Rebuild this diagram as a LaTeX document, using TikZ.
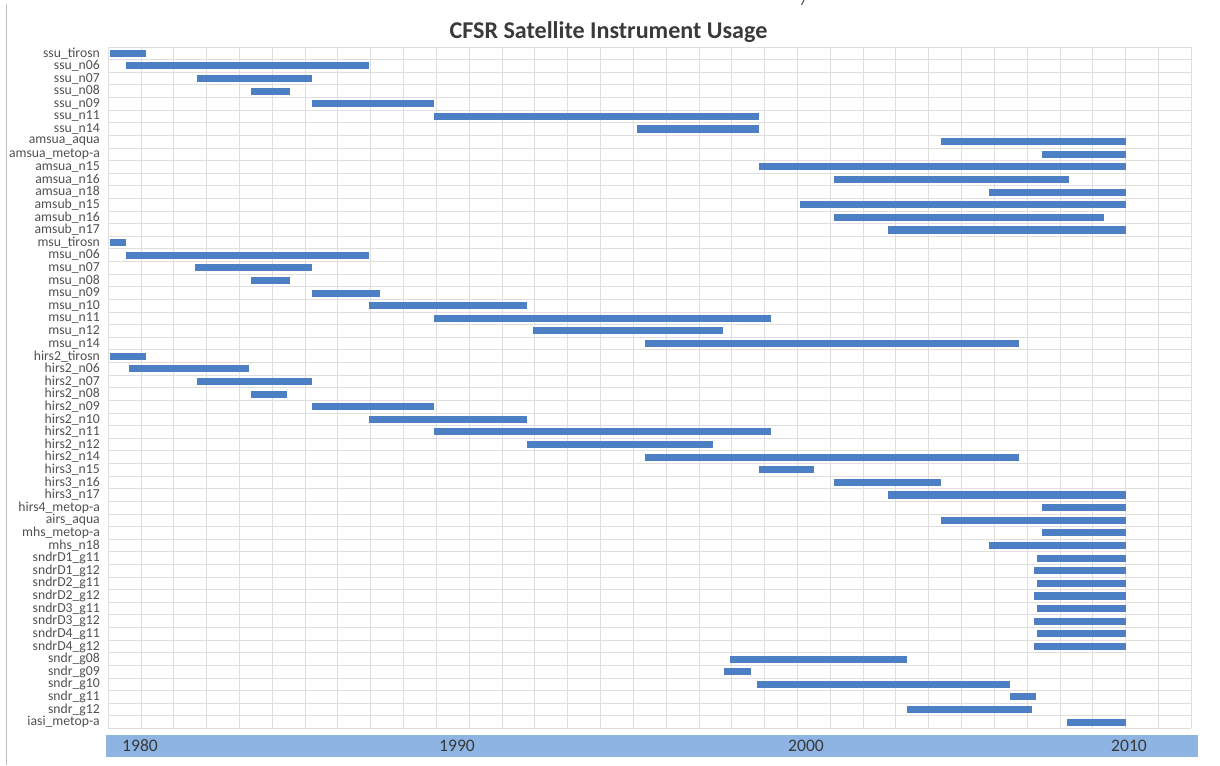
\documentclass[tikz,border=0pt]{standalone}
\usepackage{fontspec}
\setmainfont{Carlito}
\definecolor{barblue}{HTML}{4C7FC4}
\definecolor{axisblue}{HTML}{8DB4E2}
\definecolor{labgray}{HTML}{505050}
\definecolor{titlegray}{HTML}{3A3A3A}
\begin{document}
\begin{tikzpicture}[
  gridline/.style={draw=black!13, line width=0.5pt},
  rowlab/.style={anchor=east, inner sep=0pt, text=labgray, font=\fontsize{7.8}{8}\selectfont},
  yearlab/.style={inner sep=0pt, text=titlegray, font=\fontsize{10}{12}\selectfont},
  bar/.style={fill=barblue}]
\useasboundingbox (0,0) rectangle (24.4,-15.3);
\node[font=\bfseries\fontsize{13.7}{15}\selectfont, text=titlegray] (title) at (12.17,-0.64) {CFSR Satellite Instrument Usage};
\draw[black!25, line width=0.5pt] (0.12,-0.08) -- (0.12,-15.3);
\draw[black!70, line width=0.6pt] (16.03,-0.10) -- (16.08,0);
% time axis band
\fill[axisblue] (2.12,-14.70) rectangle (23.96,-15.14);
\node[yearlab] (y1980) at (2.80,-14.92) {1980};
\node[yearlab] (y1990) at (9.14,-14.92) {1990};
\node[yearlab] (y2000) at (16.12,-14.92) {2000};
\node[yearlab] (y2010) at (22.58,-14.92) {2010};
% one unit = one year from 1980, one row per instrument
\begin{scope}[shift={(2.82,-0.94)}, x=0.6564cm, y=-0.2524cm]
\foreach \k in {-1,...,32}
  \draw[gridline] (\k,0) -- (\k,54);
\foreach \r in {0,...,54}
  \draw[gridline] (-1,\r) -- (32,\r);
\foreach \lab/\sa/\sb [count=\i] in {
  ssu\_tirosn/-0.95/0.15, ssu\_n06/-0.46/6.95, ssu\_n07/1.71/5.21,
  ssu\_n08/3.35/4.54, ssu\_n09/5.21/8.93, ssu\_n11/8.93/18.84,
  ssu\_n14/15.12/18.84, amsua\_aqua/24.36/30, amsua\_metop-a/27.44/30,
  amsua\_n15/18.84/30, amsua\_n16/21.10/28.26, amsua\_n18/25.85/30,
  amsub\_n15/20.09/30, amsub\_n16/21.10/29.33, amsub\_n17/22.77/30,
  msu\_tirosn/-0.95/-0.46, msu\_n06/-0.46/6.95, msu\_n07/1.65/5.21,
  msu\_n08/3.35/4.54, msu\_n09/5.21/7.29, msu\_n10/6.95/11.77,
  msu\_n11/8.93/19.18, msu\_n12/11.95/17.74, msu\_n14/15.37/26.74,
  hirs2\_tirosn/-0.95/0.15, hirs2\_n06/-0.37/3.29, hirs2\_n07/1.71/5.21,
  hirs2\_n08/3.35/4.45, hirs2\_n09/5.21/8.93, hirs2\_n10/6.95/11.77,
  hirs2\_n11/8.93/19.18, hirs2\_n12/11.77/17.44, hirs2\_n14/15.37/26.74,
  hirs3\_n15/18.84/20.52, hirs3\_n16/21.10/24.36, hirs3\_n17/22.77/30,
  hirs4\_metop-a/27.44/30, airs\_aqua/24.36/30, mhs\_metop-a/27.44/30,
  mhs\_n18/25.85/30, sndrD1\_g11/27.29/30, sndrD1\_g12/27.20/30,
  sndrD2\_g11/27.29/30, sndrD2\_g12/27.20/30, sndrD3\_g11/27.29/30,
  sndrD3\_g12/27.20/30, sndrD4\_g11/27.29/30, sndrD4\_g12/27.20/30,
  sndr\_g08/17.96/23.35, sndr\_g09/17.77/18.60, sndr\_g10/18.78/26.49,
  sndr\_g11/26.49/27.26, sndr\_g12/23.35/27.16, iasi\_metop-a/28.20/30}
{
  \node[rowlab] (lab\i) at ([xshift=-0.16cm]-1,\i-0.5) {\lab};
  \fill[bar] (\sa,\i-0.78) rectangle (\sb,\i-0.22);
}
\end{scope}
\end{tikzpicture}
\end{document}
